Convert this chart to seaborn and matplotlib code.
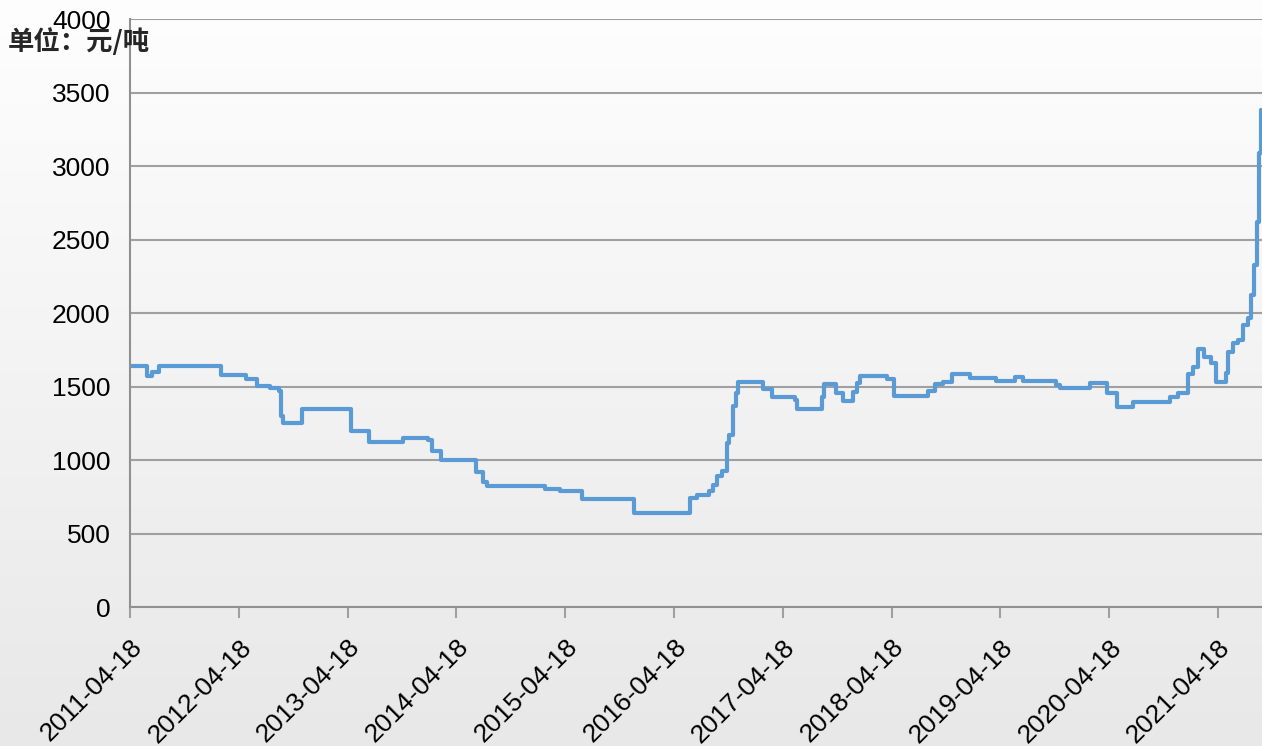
import numpy as np
import pandas as pd
import matplotlib
matplotlib.use('Agg')
import matplotlib.pyplot as plt
import seaborn as sns

# price change dates and values (元/吨)
dates = ['2011-04-18', '2011-06-14', '2011-07-01', '2011-07-24', '2012-02-17',
         '2012-05-11', '2012-06-17', '2012-07-31', '2012-08-30', '2012-09-06',
         '2012-09-13', '2012-11-15', '2013-04-29', '2013-06-28', '2013-10-20',
         '2014-01-12', '2014-01-26', '2014-02-25', '2014-06-23', '2014-07-16',
         '2014-07-30', '2015-02-09', '2015-04-01', '2015-06-13', '2015-12-05',
         '2016-06-11', '2016-07-04', '2016-08-14', '2016-08-27', '2016-09-09',
         '2016-09-26', '2016-10-13', '2016-10-20', '2016-11-02', '2016-11-12',
         '2016-11-19', '2017-02-11', '2017-03-13', '2017-05-29', '2017-06-05',
         '2017-08-28', '2017-09-04', '2017-10-14', '2017-11-07', '2017-12-10',
         '2017-12-24', '2018-01-03', '2018-04-03', '2018-04-27', '2018-08-19',
         '2018-09-12', '2018-10-08', '2018-11-08', '2019-01-07', '2019-04-04',
         '2019-06-07', '2019-07-04', '2019-10-23', '2019-11-05', '2020-02-14',
         '2020-04-11', '2020-05-14', '2020-07-07', '2020-11-08', '2020-12-05',
         '2021-01-08', '2021-01-24', '2021-02-10', '2021-03-02', '2021-03-26',
         '2021-04-12', '2021-05-15', '2021-05-22', '2021-06-08', '2021-06-24',
         '2021-07-11', '2021-07-28', '2021-08-07', '2021-08-17', '2021-08-27',
         '2021-09-03', '2021-09-10', '2021-09-13']
prices = [1640, 1570, 1600, 1640, 1580,
          1550, 1505, 1490, 1470, 1300,
          1250, 1350, 1200, 1120, 1150,
          1135, 1060, 1000, 920, 850,
          825, 805, 790, 735, 637,
          740, 762, 791, 830, 890,
          927, 1115, 1170, 1370, 1456,
          1530, 1480, 1430, 1408, 1345,
          1430, 1515, 1455, 1400, 1465,
          1526, 1573, 1551, 1435, 1469,
          1515, 1529, 1583, 1556, 1537,
          1567, 1537, 1510, 1488, 1522,
          1458, 1362, 1395, 1427, 1454,
          1583, 1635, 1755, 1703, 1658,
          1533, 1590, 1735, 1793, 1816,
          1918, 1964, 2122, 2327, 2621,
          3086, 3381, 3381]

tick_dates = ['2011-04-18', '2012-04-18', '2013-04-18', '2014-04-18', '2015-04-18',
              '2016-04-18', '2017-04-18', '2018-04-18', '2019-04-18', '2020-04-18',
              '2021-04-18']
y_ticks = [0, 500, 1000, 1500, 2000, 2500, 3000, 3500, 4000]

df = pd.DataFrame({'date': pd.to_datetime(dates), 'price': prices})

sns.set_theme(style='white')
plt.rcParams['font.family'] = ['Liberation Sans', 'Noto Sans CJK SC', 'DejaVu Sans']

fig = plt.figure(figsize=(12.62, 7.46), dpi=100)

# gradient background
bg = fig.add_axes([0, 0, 1, 1], zorder=-10)
grad = np.linspace(0, 1, 256).reshape(-1, 1)
cmap = matplotlib.colors.LinearSegmentedColormap.from_list('bg', ['#fefefe', '#e8e8e8'])
bg.imshow(grad, aspect='auto', cmap=cmap, extent=[0, 1, 0, 1])
bg.axis('off')

ax = fig.add_axes([0.103, 0.1863, 0.897, 0.7882])
ax.set_facecolor('none')

sns.lineplot(data=df, x='date', y='price', ax=ax, color='#5B9BD5',
             linewidth=3, drawstyle='steps-post')

ax.set_xlim(pd.Timestamp('2011-04-18'), pd.Timestamp('2021-09-13'))
ax.set_ylim(0, 4000)
ax.set_yticks(y_ticks)
ax.set_xticks(pd.to_datetime(tick_dates))
ax.set_xticklabels(tick_dates, rotation=45, ha='right', rotation_mode='anchor')
ax.set_xlabel('')
ax.set_ylabel('')

ax.yaxis.grid(True, color='#a0a0a0', linewidth=1.5)
ax.set_axisbelow(True)
for s in ['top', 'right']:
    ax.spines[s].set_visible(False)
for s in ['left', 'bottom']:
    ax.spines[s].set_color('#909090')
    ax.spines[s].set_linewidth(1.5)

ax.tick_params(axis='y', length=0, pad=14, labelsize=19, colors='black')
ax.tick_params(axis='x', length=8, width=1.5, color='#a0a0a0', pad=12,
               labelsize=19, labelcolor='black', direction='out', bottom=True)

fig.text(0.006, 0.944, '单位：元/吨', fontsize=19, fontweight='bold',
         family=['Noto Sans CJK SC', 'DejaVu Sans'], ha='left', va='center')

fig.savefig('out.png', dpi=100)
